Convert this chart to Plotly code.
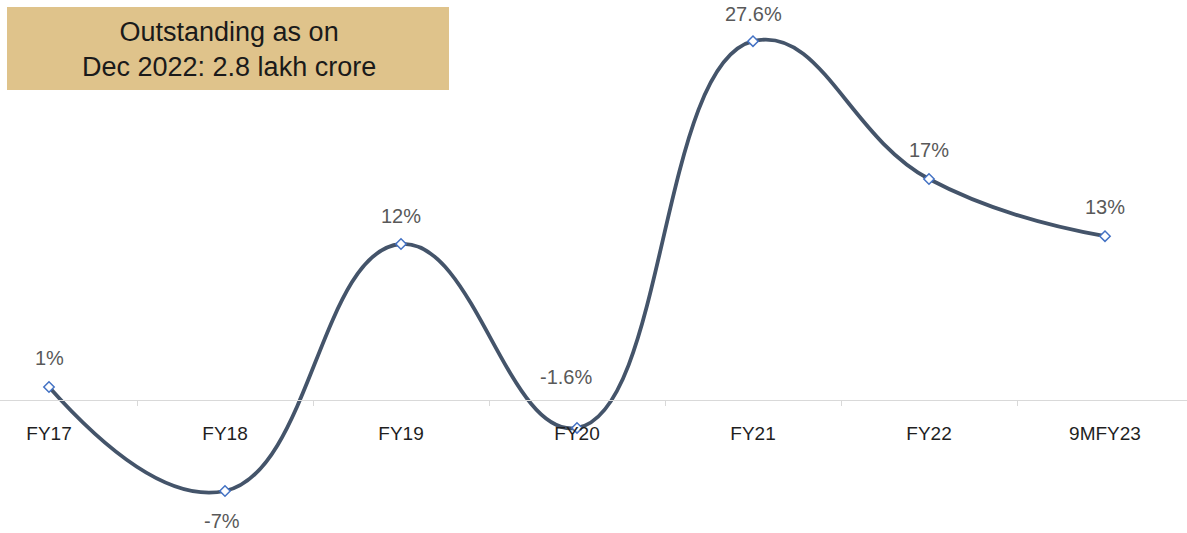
import plotly.graph_objects as go

categories = ["FY17", "FY18", "FY19", "FY20", "FY21", "FY22", "9MFY23"]
growth = [1.0, -7.0, 12.0, -2.15, 27.6, 17.0, 12.6]
growth_labels = ["1%", "-7%", "12%", "-1.6%", "27.6%", "17%", "13%"]
box_text = "Outstanding as on<br>Dec 2022: 2.8 lakh crore"

# label offsets (pixels): (xshift, yshift)
label_offsets = [(0, 29), (-3, -30), (0, 28), (-11, 51), (0, 27), (0, 29), (0, 29)]

W, H = 1187, 533
fig = go.Figure()
fig.add_trace(go.Scatter(
    x=categories, y=growth, mode="lines+markers",
    line=dict(color="#44546A", width=3.8, shape="spline", smoothing=1.3),
    marker=dict(symbol="diamond", size=8, color="white",
                line=dict(color="#4472C4", width=1.5)),
    hoverinfo="skip", showlegend=False,
))

for c, v, t, (dx, dy) in zip(categories, growth, growth_labels, label_offsets):
    fig.add_annotation(x=c, y=v, text=t, showarrow=False, xshift=dx, yshift=dy,
                       xanchor="center", yanchor="middle",
                       font=dict(family="Liberation Sans, Arial", size=20, color="#595959"))

fig.add_shape(type="rect", xref="paper", yref="paper",
              x0=7 / W, x1=449 / W, y0=1 - 90 / H, y1=1 - 7 / H,
              fillcolor="#DFC38B", line=dict(width=0), layer="below")
fig.add_annotation(xref="paper", yref="paper", x=229 / W, y=1 - 49 / H,
                   xanchor="center", yanchor="middle",
                   text=box_text, showarrow=False, align="center",
                   font=dict(family="Liberation Sans, Arial", size=27, color="#1a1a1a"))

y_top, y_bot = 400 / 13, -(H - 400) / 13
fig.update_layout(
    width=W, height=H,
    margin=dict(l=0, r=0, t=0, b=0),
    paper_bgcolor="white", plot_bgcolor="white",
    xaxis=dict(type="category", range=[-49 / 176, -49 / 176 + W / 176],
               showline=True, linecolor="#D9D9D9", linewidth=1,
               ticks="outside", tickson="boundaries", ticklen=5, tickcolor="#D9D9D9",
               showgrid=False, zeroline=False,
               anchor="free", position=(H - 400) / H,
               ticklabelstandoff=16,
               tickfont=dict(family="Liberation Sans, Arial", size=19, color="#1f1f1f")),
    yaxis=dict(range=[y_bot, y_top], visible=False, showgrid=False, zeroline=False),
)

fig.write_html("out.html", config={"displayModeBar": False},
               post_script="document.body.style.margin='0';document.body.style.overflow='hidden';")
